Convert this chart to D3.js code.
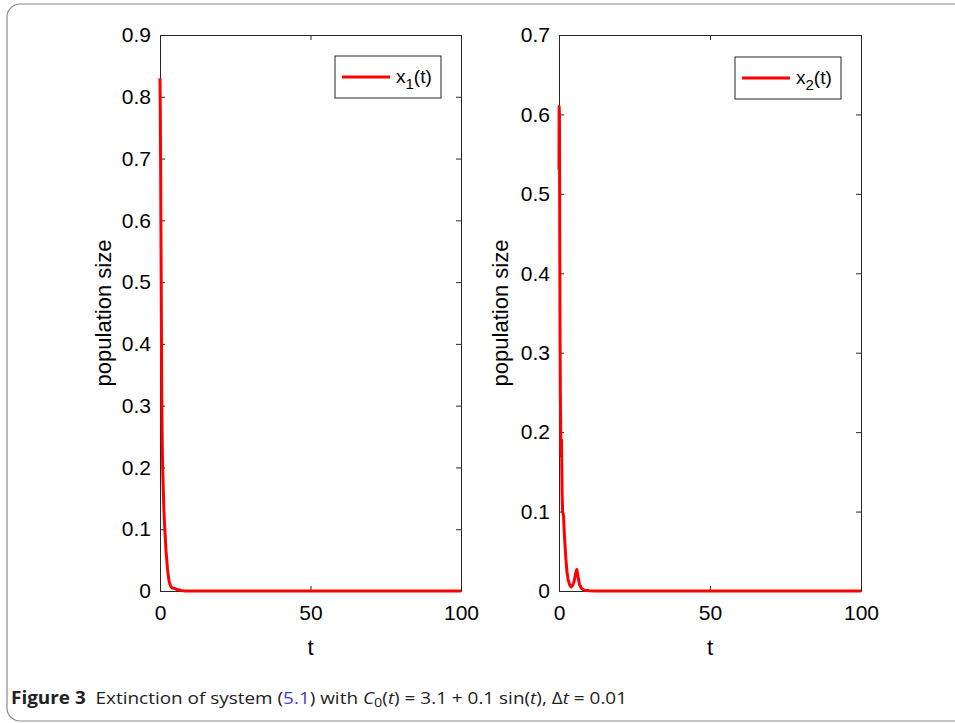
<!DOCTYPE html>
<html><head><meta charset="utf-8">
<script src="https://cdn.jsdelivr.net/npm/d3@7"></script>
<style>
body{margin:0;background:#fff;}
svg{display:block;}
</style></head>
<body>
<svg id="c" width="955" height="723"></svg>
<script>
// ---- data ----
const t1 = [0,0.1,0.2,0.3,0.4,0.5,0.6,0.7,0.8,1.0,1.3,1.6,2.0,2.5,3.0,3.5,4.0,5.0,6.0,7.0,8.0,10,20,40,60,80,100];
const x1 = [0.83,0.78,0.70,0.60,0.50,0.40,0.31,0.26,0.22,0.18,0.13,0.10,0.065,0.035,0.016,0.008,0.005,0.004,0.002,0.0008,0.0002,0,0,0,0,0,0];
const t2 = [0,0.05,0.15,0.25,0.35,0.45,0.55,0.65,0.75,0.85,0.95,1.05,1.2,1.5,1.8,2.2,2.6,3.0,3.5,4.0,4.5,5.0,5.5,5.9,6.3,6.8,7.5,8.5,10,12,20,40,60,80,100];
const x2 = [0.53,0.61,0.60,0.45,0.32,0.25,0.21,0.17,0.19,0.19,0.15,0.12,0.10,0.095,0.07,0.045,0.025,0.015,0.008,0.005,0.007,0.012,0.022,0.027,0.018,0.008,0.003,0.001,0.0002,0,0,0,0,0,0];
const xTicks = [0,50,100];
const yTicks1 = [0,0.1,0.2,0.3,0.4,0.5,0.6,0.7,0.8,0.9];
const yTicks2 = [0,0.1,0.2,0.3,0.4,0.5,0.6,0.7];
const yMax1 = 0.9, yMax2 = 0.7;
const legend1 = "1", legend2 = "2";
const xLabel = "t", yLabel = "population size";

const svg = d3.select("#c");
const axisColor = "#262626";
const fontFam = "'Liberation Sans', Arial, Helvetica, sans-serif";

// outer frame
svg.append("rect").attr("x",7).attr("y",4).attr("width",990).attr("height",717)
  .attr("rx",13).attr("fill","none").attr("stroke","#8a8a8a").attr("stroke-width",1.2);

function panel(left, right, ts, vs, yMax, yTicks, sub, legX, legY, ylabX) {
  const top = 35, bottom = 591;
  const x = d3.scaleLinear().domain([0,100]).range([left,right]);
  const y = d3.scaleLinear().domain([0,yMax]).range([bottom,top]);
  const g = svg.append("g");
  const fmt = d => d===0 ? "0" : (Number.isInteger(d) ? String(d) : d.toFixed(1));

  const ax = [
    {a: d3.axisBottom(x).tickValues(xTicks).tickFormat(fmt), tr:`translate(0,${bottom})`, lab:true},
    {a: d3.axisTop(x).tickValues(xTicks).tickFormat(""), tr:`translate(0,${top})`, lab:false},
    {a: d3.axisLeft(y).tickValues(yTicks).tickFormat(fmt), tr:`translate(${left},0)`, lab:true},
    {a: d3.axisRight(y).tickValues(yTicks).tickFormat(""), tr:`translate(${right},0)`, lab:false}
  ];
  ax.forEach((o,i)=>{
    o.a.tickSizeInner(-5).tickSizeOuter(0).tickPadding(i===0?14:9);
    const s = g.append("g").attr("transform",o.tr).call(o.a);
    s.select(".domain").attr("stroke",axisColor).attr("stroke-width",1);
    s.selectAll(".tick line").attr("stroke",axisColor).attr("stroke-width",1);
    s.selectAll(".tick text").attr("font-family",fontFam).attr("font-size",21).attr("fill","#000");
  });

  // curve
  const line = d3.line().x((d,i)=>x(ts[i])).y(d=>y(d));
  g.append("path").datum(vs).attr("d",line).attr("fill","none")
    .attr("stroke","#ff0000").attr("stroke-width",3).attr("stroke-linejoin","round");

  // axis labels
  g.append("text").attr("x",(left+right)/2).attr("y",655).attr("text-anchor","middle")
    .attr("font-family",fontFam).attr("font-size",22).attr("fill","#000").text(xLabel);
  g.append("text").attr("transform",`translate(${ylabX},${(top+bottom)/2}) rotate(-90)`)
    .attr("text-anchor","middle").attr("font-family",fontFam).attr("font-size",22).attr("fill","#000").text(yLabel);

  // legend
  g.append("rect").attr("x",legX).attr("y",legY).attr("width",106).attr("height",42)
    .attr("fill","#fff").attr("stroke",axisColor).attr("stroke-width",1);
  g.append("line").attr("x1",legX+7).attr("x2",legX+55).attr("y1",legY+21).attr("y2",legY+21)
    .attr("stroke","#ff0000").attr("stroke-width",3);
  const tx = g.append("text").attr("x",legX+61).attr("y",legY+27)
    .attr("font-family",fontFam).attr("font-size",19).attr("fill","#000");
  tx.append("tspan").text("x");
  tx.append("tspan").attr("dy",6).attr("font-size",15).text(sub);
  tx.append("tspan").attr("dy",-6).text("(t)");
}

panel(160, 461, t1, x1, yMax1, yTicks1, legend1, 335, 56, 111);
panel(559, 861, t2, x2, yMax2, yTicks2, legend2, 735, 57, 508);

// caption
const cap = svg.append("text").attr("x",11).attr("y",704)
  .attr("font-family","'Open Sans', 'Noto Sans', sans-serif").attr("font-size",17).attr("fill","#222")
  .attr("textLength",616).attr("lengthAdjust","spacingAndGlyphs");
cap.append("tspan").attr("font-weight","bold").text("Figure 3");
cap.append("tspan").text("\u00a0\u00a0Extinction of system (");
cap.append("tspan").attr("fill","#3b3bd6").text("5.1");
cap.append("tspan").text(") with ");
cap.append("tspan").attr("font-style","italic").text("C");
cap.append("tspan").attr("dy",3).attr("font-size",13).text("0");
cap.append("tspan").attr("dy",-3).text("(");
cap.append("tspan").attr("font-style","italic").text("t");
cap.append("tspan").text(") = 3.1 + 0.1 sin(");
cap.append("tspan").attr("font-style","italic").text("t");
cap.append("tspan").text("), \u0394");
cap.append("tspan").attr("font-style","italic").text("t");
cap.append("tspan").text(" = 0.01");
</script>
</body></html>
